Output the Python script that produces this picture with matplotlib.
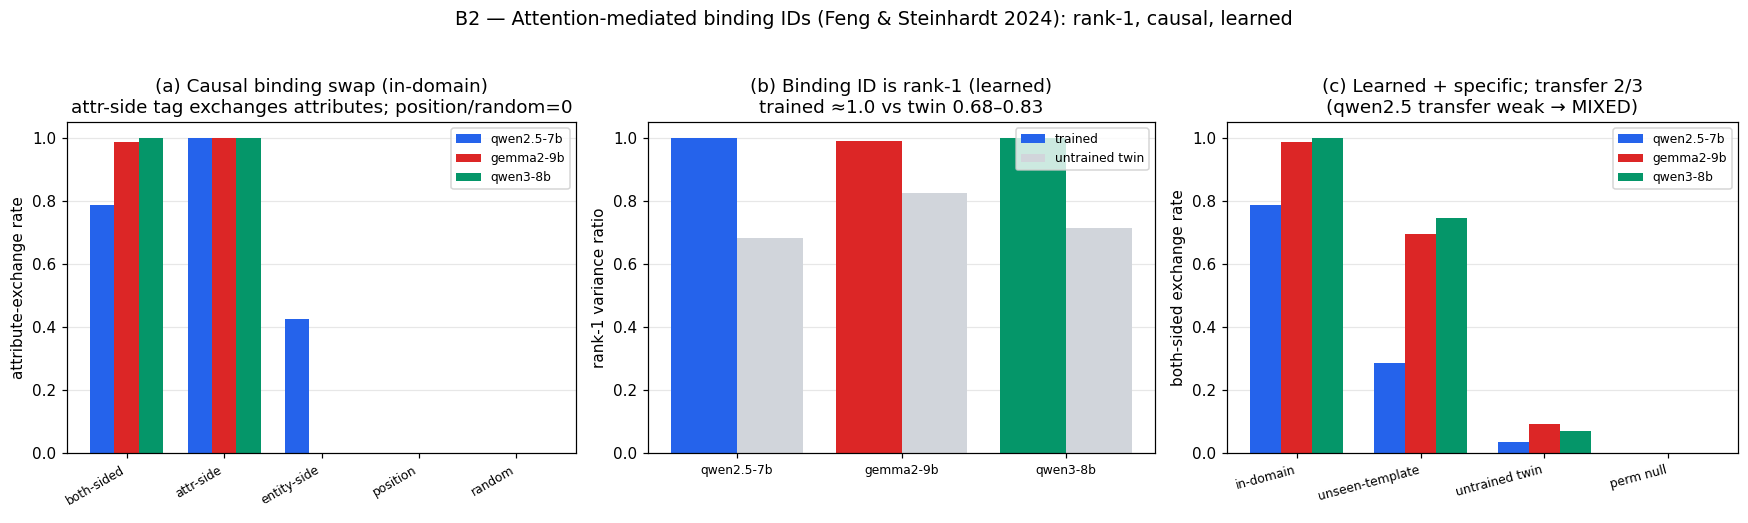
import matplotlib
matplotlib.use("Agg")
import matplotlib.pyplot as plt
import numpy as np

models = ["qwen2.5-7b", "gemma2-9b", "qwen3-8b"]
colors = ["#2563eb", "#dc2626", "#059669"]
twin_color = "#d1d5db"

# Panel (a)
swap_conditions = ["both-sided", "attr-side", "entity-side", "position", "random"]
swap_rates = {
    "qwen2.5-7b": [0.788, 1.0, 0.425, 0.0, 0.0],
    "gemma2-9b": [0.988, 1.0, 0.0, 0.0, 0.0],
    "qwen3-8b": [1.0, 1.0, 0.0, 0.0, 0.0],
}

# Panel (b)
rank1_trained = [1.0, 0.991, 1.0]
rank1_twin = [0.681, 0.826, 0.715]

# Panel (c)
transfer_conditions = ["in-domain", "unseen-template", "untrained twin", "perm null"]
transfer_rates = {
    "qwen2.5-7b": [0.788, 0.285, 0.035, 0.0],
    "gemma2-9b": [0.986, 0.694, 0.092, 0.0],
    "qwen3-8b": [1.0, 0.747, 0.070, 0.0],
}

DPI = 110
W, H = 1748, 523
fig = plt.figure(figsize=(W / DPI, H / DPI), dpi=DPI)

def ax_at(l, r, t=122, b=453):
    return fig.add_axes([l / W, 1 - b / H, (r - l) / W, (b - t) / H])

ax1 = ax_at(67, 576)
ax2 = ax_at(648, 1155)
ax3 = ax_at(1227, 1738)

w = 0.25
x = np.arange(len(swap_conditions))
for i, m in enumerate(models):
    ax1.bar(x + (i - 1) * w, swap_rates[m], w, color=colors[i], label=m)
ax1.set_xticks(x)
ax1.set_xticklabels(swap_conditions, rotation=30, ha="right", fontsize=8)
ax1.set_ylabel("attribute-exchange rate")
ax1.set_title("(a) Causal binding swap (in-domain)\nattr-side tag exchanges attributes; position/random=0")
ax1.legend(fontsize=8, loc="upper right")
ax1.grid(axis="y", alpha=0.3)
ax1.set_axisbelow(True)

xb = np.arange(len(models))
wb = 0.4
ax2.bar(xb - wb / 2, rank1_trained, wb, color=colors, label="trained")
ax2.bar(xb + wb / 2, rank1_twin, wb, color=twin_color, label="untrained twin")
ax2.set_xticks(xb)
ax2.set_xticklabels(models, fontsize=8)
ax2.set_ylabel("rank-1 variance ratio")
ax2.set_title("(b) Binding ID is rank-1 (learned)\ntrained \u22481.0 vs twin 0.68\u20130.83")
ax2.legend(fontsize=8, loc="upper right")
ax2.grid(axis="y", alpha=0.3)
ax2.set_axisbelow(True)

xc = np.arange(len(transfer_conditions))
for i, m in enumerate(models):
    ax3.bar(xc + (i - 1) * w, transfer_rates[m], w, color=colors[i], label=m)
ax3.set_xticks(xc)
ax3.set_xticklabels(transfer_conditions, rotation=15, ha="right", fontsize=8)
ax3.set_ylabel("both-sided exchange rate")
ax3.set_title("(c) Learned + specific; transfer 2/3\n(qwen2.5 transfer weak \u2192 MIXED)")
ax3.legend(fontsize=8, loc="upper right")
ax3.grid(axis="y", alpha=0.3)
ax3.set_axisbelow(True)

for ax in (ax1, ax2, ax3):
    ax.set_ylim(0, 1.05)

fig.suptitle("B2 \u2014 Attention-mediated binding IDs (Feng & Steinhardt 2024): rank-1, causal, learned",
             fontsize=12.5)
fig.savefig("out.png", dpi=DPI)
